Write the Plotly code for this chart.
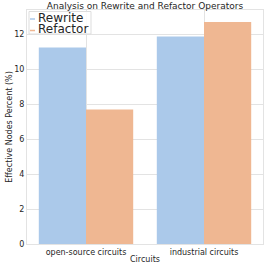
import plotly.graph_objects as go

categories = ["open-source circuits", "industrial circuits"]
rewrite = [11.25, 11.87]
refactor = [7.7, 12.7]
series_names = ["Rewrite", "Refactor"]
y_ticks = [0, 2, 4, 6, 8, 10, 12]

BLUE = "#abc9ea"
ORANGE = "#efb792"
TEXT = "#262626"
GRID = "#e3e3e3"
FONT = "DejaVu Sans"

fig = go.Figure()
fig.add_trace(go.Bar(x=categories, y=rewrite, name=series_names[0],
                     marker=dict(color=BLUE, line=dict(width=0)), showlegend=False))
fig.add_trace(go.Bar(x=categories, y=refactor, name=series_names[1],
                     marker=dict(color=ORANGE, line=dict(width=0)), showlegend=False))

W, H = 266, 266
ml, mr, mt, mb = 27, 3, 10, 22
pw, ph = W - ml - mr, H - mt - mb

def px(x):
    return (x - ml) / pw

def py(y):
    return (H - mb - y) / ph

fig.update_layout(
    width=W, height=H,
    margin=dict(l=ml, r=mr, t=mt, b=mb, pad=0, autoexpand=False),
    paper_bgcolor="white", plot_bgcolor="white",
    barmode="group", bargap=0.2, bargroupgap=0,
    font=dict(family=FONT, color=TEXT, size=8),
    title=dict(text="Analysis on Rewrite and Refactor Operators",
               font=dict(size=9, color=TEXT, family=FONT),
               x=0.5, xref="paper", xanchor="center",
               y=1 - 6 / H, yref="container", yanchor="middle"),
    xaxis=dict(title=dict(text="Circuits", font=dict(size=8), standoff=0),
               automargin=False,
               showgrid=True, gridcolor=GRID, showline=True, linecolor=GRID,
               linewidth=1, mirror=True, ticks="", tickfont=dict(size=8)),
    yaxis=dict(title=dict(text="Effective Nodes Percent (%)", font=dict(size=8), standoff=0),
               automargin=False,
               range=[0, 13.39], tickvals=y_ticks, showgrid=True, gridcolor=GRID,
               showline=True, linecolor=GRID, linewidth=1, mirror=True,
               ticks="", tickfont=dict(size=8), zeroline=False),
    showlegend=False,
)

# legend box
fig.add_shape(type="rect", xref="paper", yref="paper",
              x0=px(29), x1=px(91), y0=py(34), y1=py(11.5),
              fillcolor="rgba(255,255,255,0.85)", line=dict(color="#dddddd", width=1))
for name, color, yc in [(series_names[0], BLUE, 17.5), (series_names[1], ORANGE, 29)]:
    fig.add_shape(type="line", xref="paper", yref="paper",
                  x0=px(30), x1=px(35), y0=py(yc + 1.5), y1=py(yc + 1.5),
                  line=dict(color=color, width=1.5))
    fig.add_annotation(xref="paper", yref="paper", x=px(36.5), y=py(yc),
                       xanchor="left", yanchor="middle", showarrow=False,
                       text=name, borderpad=0,
                       font=dict(size=12, color=TEXT, family=FONT))

fig.write_html("out.html",
               config={"displayModeBar": False},
               post_script="document.body.style.margin='0';document.body.style.overflow='hidden';")
